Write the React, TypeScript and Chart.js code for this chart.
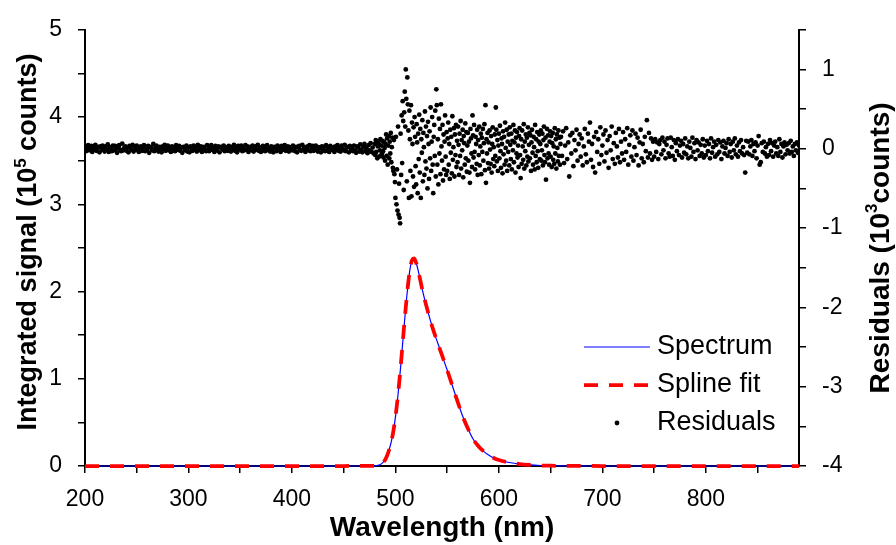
import React, { useEffect, useRef } from 'react';
import { Chart, registerables } from 'chart.js';

Chart.register(...registerables);

// ---------------- data ----------------
const spectrumWavelengths = [
  200, 250, 300, 350, 400, 450, 480, 484, 487, 490, 492, 494, 496, 498, 500, 502, 504, 506, 508, 510,
  512, 514, 516, 518, 520, 522, 524, 527, 530, 533, 536, 540, 545, 550, 555, 560, 565, 570, 575, 580,
  585, 590, 595, 600, 610, 620, 630, 640, 650, 670, 700, 750, 800, 850, 890,
];
// integrated signal, 10^5 counts
const spectrumValues = [
  0, 0, 0, 0, 0, 0, 0.002, 0.01, 0.03, 0.07, 0.12, 0.19, 0.28, 0.4, 0.56, 0.76, 1.0, 1.27, 1.55, 1.82,
  2.06, 2.25, 2.36, 2.38, 2.33, 2.24, 2.13, 1.97, 1.83, 1.7, 1.58, 1.44, 1.27, 1.1, 0.92, 0.74, 0.57, 0.43, 0.31, 0.23,
  0.17, 0.125, 0.092, 0.068, 0.04, 0.022, 0.012, 0.006, 0.003, 0.001, 0, 0, 0, 0, 0,
];
const splineFitValues = [
  0, 0, 0, 0, 0, 0, 0.002, 0.01, 0.03, 0.07, 0.12, 0.19, 0.28, 0.4, 0.56, 0.76, 1.0, 1.27, 1.55, 1.82,
  2.06, 2.25, 2.36, 2.38, 2.33, 2.24, 2.13, 1.97, 1.83, 1.7, 1.58, 1.44, 1.27, 1.1, 0.92, 0.74, 0.57, 0.43, 0.31, 0.23,
  0.17, 0.125, 0.092, 0.068, 0.04, 0.022, 0.012, 0.006, 0.003, 0.001, 0, 0, 0, 0, 0,
];

// residuals in counts; segment A: 200..479 nm every 1 nm
const residualsAStartNm = 200;
const residualsAStepNm = 1;
const residualsA = [
  20, -30, 10, 45, -20, 5, 35, -40, 15, -10, 50, -25, 10, 25, -45, 30, -15, 40, 0, -35,
  30, -10, 55, -40, 20, 10, -30, 40, -20, 35, 0, -50, 20, 45, -10, -30, 65, -20, 10, 30,
  -25, 15, -45, 35, 5, -15, 50, -35, 25, -5, 40, -20, -40, 15, 30, -25, 5, 45, -30, 20,
  -10, 35, -50, 25, 10, -20, 60, -30, 15, 40, -15, -35, 25, 5, -45, 30, -5, 50, -25, 15,
  40, -20, 10, -40, 30, -5, 20, -30, 45, -15, 5, 35, -25, 15, -50, 25, 10, -20, 40, -35,
  15, -45, 30, 0, -25, 40, -10, 20, -35, 50, -20, 10, 30, -40, 5, 25, -15, -30, 45, -5,
  -30, 20, 45, -15, 10, -40, 35, -20, 5, 30, -45, 15, 25, -10, 40, -30, 0, 20, -25, 35,
  10, -35, 25, -5, 50, -25, 15, -45, 35, -10, 20, 40, -30, 5, -20, 45, -15, 30, -40, 10,
  25, -20, 40, -35, 0, 30, -15, 50, -25, 10, -40, 20, 35, -5, -30, 15, 45, -20, 5, -35,
  30, -10, -45, 25, 15, -30, 40, -5, 20, -40, 35, -15, 10, 45, -25, 0, 30, -35, 20, -10,
  -20, 40, 10, -30, 25, -45, 15, 35, -10, -25, 50, -15, 20, -40, 5, 30, -20, 45, -30, 10,
  35, -25, 5, 40, -15, -35, 20, 10, -45, 30, -5, 25, -30, 45, -20, 15, -40, 35, 0, -15,
  20, -40, 30, -10, 45, -25, 10, -35, 40, -5, -20, 50, -30, 15, 25, -45, 35, -15, 5, -30,
  40, -20, -50, 30, 15, -35, 55, -10, -45, 25, 60, -30, 10, -55, 45, -20, 70, -40, 15, -60,
];
// segment B: 480..659.5 nm every 0.5 nm
const residualsBStartNm = 480;
const residualsBStepNm = 0.5;
const residualsB = [
  60, -80, 110, -40, 90, -120, 30, 75, -100, 50, -20, 120, -90, 40, -60, 100, -30, -110, 85, 10,
  -150, 60, 180, -90, 130, -200, 40, 160, -120, 90, -60, 200, -170, 20, 140, -240, -280, 110, -320, -420,
  -620, 150, -700, -260, -780, 280, -830, -440, -870, -940, 190, -330, 420, -180, 600, 350, -520, 460, 720, 280,
  1000, 630, -410, 900, 560, 230, -620, 480, 120, -280, 550, -600, 330, 60, -350, 270, -480, 400, 150, -220,
  -450, 310, 80, -560, 190, -130, 430, -300, 250, -620, 120, -50, 360, -410, 200, 20, -330, 470, -160, 280,
  -250, 160, -500, 340, 60, -380, 220, -120, 520, -280, 90, 400, -200, -560, 150, 300, -90, 480, -350, 750,
  550, -200, 120, -450, 380, -60, 250, -320, 560, 30, -150, 300, -400, 180, -260, 90, 420, -100, -330, 210,
  -280, 130, 330, -200, 60, -380, 240, -50, 150, -310, 410, -140, 20, 260, -350, 180, -80, 300, -230, 100,
  -170, 280, 50, -330, 190, -90, 350, -250, 110, -20, 240, -360, 160, 70, -200, 320, -120, 210, -290, 40,
  200, -150, 90, -300, -430, 250, 130, -60, -230, 420, 170, -110, 300, -40, -260, 150, 60, -190, 240, -330,
  110, -80, 280, -210, 30, 190, -320, 140, -40, 250, -150, 70, 310, -270, 550, -430, 120, -60, 200, -180,
  80, -250, 230, -10, -190, 160, -300, 60, 270, -130, 20, -220, 180, -90, 520, 240, -160, 110, -280, 40,
  190, -120, 290, -30, -240, 130, 60, -310, 220, -70, 150, -200, 330, 10, -150, 240, -280, 90, -40, 180,
  -210, 270, 50, -130, 190, -260, 100, -20, 300, -170, 80, 230, -300, 140, -60, 210, -110, 40, -230, 160,
  260, -80, -370, 120, -190, 230, 30, -140, 310, -250, 90, -30, 180, -210, 140, -100, 270, -160, 50, 200,
  -120, 170, -280, 80, 240, -50, -200, 150, 20, -260, 300, -90, 120, -170, 210, -30, -240, 90, 180, -130,
  60, 230, -150, -20, 190, -210, 110, 280, -80, -170, 140, -390, 40, 250, -120, 170, -60, -200, 90, 220,
  -100, 160, -230, 70, 200, -140, 30, -190, 260, -60, 120, -250, 180, 10, -160, 230, -90, 140, -200, 60,
];
// segment C: 660..890 nm every 1 nm
const residualsCStartNm = 660;
const residualsCStepNm = 1;
const residualsC = [
  150, -90, 220, -180, 40, 260, -130, 80, -350, 170, -60, 200, -220, 110, -20, 240, -150, 60, 180, -100,
  130, -210, 30, 250, -70, -170, 190, 90, 330, -140, 60, -230, 150, -300, 210, -40, 120, -190, 270, -80,
  40, 180, -160, 230, -50, 110, -240, 160, -20, 280, -130, 70, -190, 200, 30, -110, 250, -170, 90, -60,
  210, -140, 120, -40, 260, -200, 50, 170, -100, 230, -150, 20, 190, -80, 140, -210, 80, 240, -120, 60,
  -170, 150, -30, 360, -110, 200, -60, 130, -140, 90, -100, 120, -40, 80, -130, 60, 110, -70, 140, -20,
  90, -120, 50, 130, -60, -100, 140, 20, -90, 110, -140, 70, -30, 120, -80, 40, 100, -110, 60, -50,
  130, -70, 30, -120, 90, 10, -100, 140, -40, 70, -130, 110, -20, 80, -90, 50, -60, 120, -110, 40,
  -80, 100, -30, 60, -120, 130, -50, 20, 90, -100, 50, -70, 110, -40, 80, -130, 30, 100, -60, 10,
  70, -90, 120, -40, 60, -110, 90, -20, 130, -70, 40, -100, 80, -30, 110, -60, 20, -80, -300, 100,
  -50, 90, -70, 30, 110, -90, 60, -30, 80, -120, 40, 160, -200, -170, 70, -40, 90, -60, 20, -100,
  60, -80, 110, -30, 70, -100, 40, 90, -60, 20, -90, 120, -40, 60, -110, 30, 80, -70, 50, -20,
  70, -60, 100, -40, 30, -90, 60, -20, 80, -50, 40,
];

const xTickValues = [200, 250, 300, 350, 400, 450, 500, 550, 600, 650, 700, 750, 800, 850];
const xTickLabels = [200, 300, 400, 500, 600, 700, 800];
const yTickValues = [0, 0.5, 1, 1.5, 2, 2.5, 3, 3.5, 4, 4.5, 5];
const yTickLabels = [0, 1, 2, 3, 4, 5];
const y1TickValues = [-4, -3.5, -3, -2.5, -2, -1.5, -1, -0.5, 0, 0.5, 1, 1.5];
const y1TickLabels = [-4, -3, -2, -1, 0, 1];

const legendLabels = ['Spectrum', 'Spline fit', 'Residuals'];
const xTitle = 'Wavelength (nm)';
const yTitleParts: [string, boolean][] = [['Integrated signal (10', false], ['5', true], [' counts)', false]];
const y1TitleParts: [string, boolean][] = [['Residuals (10', false], ['3', true], ['counts)', false]];

// ---------------- helpers ----------------
const FONT = '"Liberation Sans", Arial, sans-serif';
const TITLE_SIZE = 28;

function segmentPoints(start: number, step: number, vals: number[]) {
  return vals.map((v, i) => ({ x: start + i * step, y: v / 1000 }));
}

function drawParts(ctx: CanvasRenderingContext2D, parts: [string, boolean][], cx: number, cy: number, rot: number, size: number) {
  const mainFont = `bold ${size}px ${FONT}`;
  const supFont = `bold ${Math.round(size * 0.62)}px ${FONT}`;
  let total = 0;
  const widths = parts.map(([t, sup]) => {
    ctx.font = sup ? supFont : mainFont;
    const w = ctx.measureText(t).width;
    total += w;
    return w;
  });
  ctx.save();
  ctx.translate(cx, cy);
  ctx.rotate(rot);
  ctx.textBaseline = 'middle';
  ctx.textAlign = 'left';
  let x = -total / 2;
  parts.forEach(([t, sup], i) => {
    ctx.font = sup ? supFont : mainFont;
    ctx.fillText(t, x, sup ? -size * 0.3 : 0);
    x += widths[i];
  });
  ctx.restore();
}

const titlePlugin = {
  id: 'axisTitles',
  afterDraw(chart: any) {
    const { ctx, chartArea: a } = chart;
    ctx.save();
    ctx.fillStyle = '#000';
    drawParts(ctx, [[xTitle, false]], (a.left + a.right) / 2, 528, 0, TITLE_SIZE);
    drawParts(ctx, yTitleParts, 29, (a.top + a.bottom) / 2 - 6, -Math.PI / 2, 27);
    drawParts(ctx, y1TitleParts, 881, (a.top + a.bottom) / 2, -Math.PI / 2, TITLE_SIZE);
    ctx.restore();
  },
};

const legendPlugin = {
  id: 'customLegend',
  afterDraw(chart: any) {
    const { ctx, chartArea: a } = chart;
    const x0 = a.right - 215;
    const x1 = a.right - 149;
    const tx = a.right - 142;
    const y0 = a.bottom - 119;
    const step = 38;
    ctx.save();
    ctx.strokeStyle = '#0000ff';
    ctx.lineWidth = 1.2;
    ctx.beginPath();
    ctx.moveTo(x0, y0);
    ctx.lineTo(x1, y0);
    ctx.stroke();
    ctx.strokeStyle = '#ff0000';
    ctx.lineWidth = 3.75;
    ctx.setLineDash([14, 11]);
    ctx.beginPath();
    ctx.moveTo(x0, y0 + step);
    ctx.lineTo(x1, y0 + step);
    ctx.stroke();
    ctx.setLineDash([]);
    ctx.fillStyle = '#000';
    ctx.beginPath();
    ctx.arc((x0 + x1) / 2, y0 + 2 * step, 2.4, 0, Math.PI * 2);
    ctx.fill();
    ctx.font = `27px ${FONT}`;
    ctx.textBaseline = 'middle';
    ctx.textAlign = 'left';
    legendLabels.forEach((l, i) => ctx.fillText(l, tx, y0 + i * step));
    ctx.restore();
  },
};

export default function App() {
  const ref = useRef<HTMLCanvasElement | null>(null);
  useEffect(() => {
    if (!ref.current) return;
    const tickFont = { family: FONT, size: 23 };
    const grid = { drawOnChartArea: false, drawTicks: true, tickLength: 7, color: '#000', lineWidth: 1.5 };
    const border = { color: '#000', width: 2 };
    const residualPoints = [
      ...segmentPoints(residualsAStartNm, residualsAStepNm, residualsA),
      ...segmentPoints(residualsBStartNm, residualsBStepNm, residualsB),
      ...segmentPoints(residualsCStartNm, residualsCStepNm, residualsC),
    ];
    const chart = new Chart(ref.current, {
      type: 'line',
      data: {
        datasets: [
          {
            label: legendLabels[2],
            data: residualPoints,
            yAxisID: 'y1',
            showLine: false,
            pointRadius: 2.4,
            pointBackgroundColor: '#000',
            pointBorderWidth: 0,
            pointBorderColor: '#000',
          },
          {
            label: legendLabels[1],
            data: spectrumWavelengths.map((x, i) => ({ x, y: splineFitValues[i] })),
            yAxisID: 'y',
            borderColor: '#ff0000',
            borderWidth: 3.75,
            borderDash: [14, 11],
            pointRadius: 0,
            cubicInterpolationMode: 'monotone',
            clip: false,
          },
          {
            label: legendLabels[0],
            data: spectrumWavelengths.map((x, i) => ({ x, y: spectrumValues[i] })),
            yAxisID: 'y',
            borderColor: '#0000ff',
            borderWidth: 1.2,
            pointRadius: 0,
            cubicInterpolationMode: 'monotone',
            clip: false,
          },
        ],
      } as any,
      options: {
        animation: false,
        responsive: false,
        devicePixelRatio: 1,
        layout: { padding: { top: 26, left: 0, right: 0, bottom: 0 } },
        plugins: { legend: { display: false }, tooltip: { enabled: false } },
        scales: {
          x: {
            type: 'linear',
            min: 200,
            max: 890,
            afterBuildTicks: (s: any) => {
              s.ticks = xTickValues.map((v) => ({ value: v }));
            },
            afterFit: (s: any) => {
              s.height = 79;
            },
            ticks: {
              autoSkip: false,
              maxRotation: 0,
              padding: 13,
              color: '#000',
              font: tickFont,
              callback: (v: any) => (xTickLabels.includes(Number(v)) ? String(v) : ''),
            },
            grid,
            border,
          },
          y: {
            type: 'linear',
            position: 'left',
            min: 0,
            max: 5,
            afterBuildTicks: (s: any) => {
              s.ticks = yTickValues.map((v) => ({ value: v }));
            },
            afterFit: (s: any) => {
              s.width = 85;
            },
            ticks: {
              autoSkip: false,
              padding: 16,
              color: '#000',
              font: tickFont,
              callback: (v: any) => (yTickLabels.includes(Number(v)) ? String(v) : ''),
            },
            grid,
            border,
          },
          y1: {
            type: 'linear',
            position: 'right',
            min: -4,
            max: 1.5,
            afterBuildTicks: (s: any) => {
              s.ticks = y1TickValues.map((v) => ({ value: v }));
            },
            afterFit: (s: any) => {
              s.width = 97;
            },
            ticks: {
              autoSkip: false,
              padding: 16,
              color: '#000',
              font: tickFont,
              callback: (v: any) => (y1TickLabels.includes(Number(v)) ? String(v) : ''),
            },
            grid,
            border,
          },
        },
      } as any,
      plugins: [titlePlugin, legendPlugin],
    });
    return () => chart.destroy();
  }, []);
  return (
    <div style={{ position: 'fixed', left: 0, top: 0, width: 896, height: 545, background: '#fff' }}>
      <canvas ref={ref} width={896} height={545} style={{ display: 'block' }} />
    </div>
  );
}
